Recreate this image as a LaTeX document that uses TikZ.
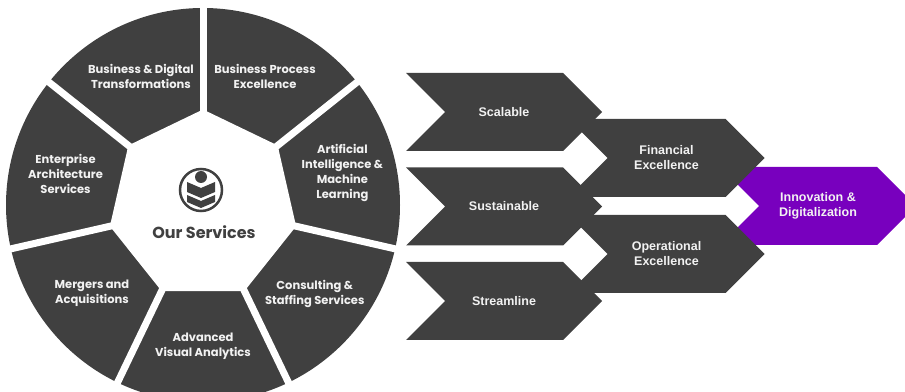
\documentclass[tikz,border=0pt]{standalone}
\usepackage{fontspec}
\setmainfont{Liberation Sans}
\newfontfamily\gothicfont{Poppins}
\usepackage{xcolor}
\definecolor{darkgrey}{RGB}{64,64,64}
\definecolor{lightgrey}{RGB}{242,242,242}
\definecolor{innovpurple}{RGB}{120,0,190}
\usetikzlibrary{shapes,arrows,positioning}

\begin{document}
\begin{tikzpicture}[node distance = 94.5pt, auto, x=1pt, y=1pt]
        \tikzstyle{chevron} = [signal, signal from=west, signal to=east, signal pointer angle=90, fill=darkgrey, text=lightgrey, minimum width=196pt, minimum height=78pt, inner sep=0pt, align=center, font=\bfseries\fontsize{12.5}{15}\selectfont]
        \tikzstyle{segment} = [text=lightgrey, align=center, font=\gothicfont\bfseries\fontsize{11.5}{15}\selectfont]
        \tikzstyle{gap} = [draw=white, line width=7pt]

        \clip (0,0) rectangle (905,391);

        % service wheel
        \coordinate (wheel) at (203,186);
        \fill [darkgrey] (wheel) circle (197pt);
        \node [regular polygon, regular polygon sides=7, minimum size=191pt, inner sep=0pt, outer sep=0pt, fill=white] (hub) at (wheel) {};
        \draw [gap] (hub.center) -- ++(90:215pt);
        \draw [gap] (hub.center) -- ++(38.57:215pt);
        \draw [gap] (hub.center) -- ++(-12.86:215pt);
        \draw [gap] (hub.center) -- ++(-64.29:215pt);
        \draw [gap] (hub.center) -- ++(-115.71:215pt);
        \draw [gap] (hub.center) -- ++(-167.14:215pt);
        \draw [gap] (hub.center) -- ++(141.43:215pt);

        \node [segment] (digital_transformations) at ([shift={(115.71:143pt)}]hub.center) {Business \& Digital\\Transformations};
        \node [segment] (process_excellence) at ([shift={(64.29:143pt)}]hub.center) {Business Process\\Excellence};
        \node [segment] (ai_ml) at ([shift={(12.86:143pt)}]hub.center) {Artificial\\Intelligence \&\\Machine\\Learning};
        \node [segment] (consulting) at ([shift={(-38.57:143pt)}]hub.center) {Consulting \&\\Staffing Services};
        \node [segment] (visual_analytics) at ([shift={(-90:141pt)}]hub.center) {Advanced\\Visual Analytics};
        \node [segment] (mergers) at ([shift={(-141.43:142pt)}]hub.center) {Mergers and\\Acquisitions};
        \node [segment] (enterprise_arch) at ([shift={(167.14:141pt)}]hub.center) {Enterprise\\Architecture\\Services};

        % badge in the middle
        \node [circle, draw=darkgrey, line width=2.5pt, minimum size=42pt, inner sep=0pt] (badge) at (201,201) {};
        \begin{scope}[shift={(201,201)}]
            \fill [darkgrey] (0,13) circle (6pt);
            \fill [darkgrey] (-14,8) -- (0,2) -- (14,8) -- (14,-2) -- (0,-8) -- (-14,-2) -- cycle;
            \fill [darkgrey] (-14,-5) -- (0,-11) -- (14,-5) -- (14,-12) -- (0,-18) -- (-14,-12) -- cycle;
        \end{scope}
        \node [text=darkgrey, font=\gothicfont\bfseries\fontsize{16}{18}\selectfont] (our_services) at (204,159) {Our Services};

        % chevrons
        \node [chevron, fill=innovpurple] (innovation) at (818,185) {Innovation \&\\Digitalization};
        \node [chevron] (scalable) at (504,279) {Scalable};
        \node [chevron, below of=scalable] (sustainable) {Sustainable};
        \node [chevron, below of=sustainable] (streamline) {Streamline};
        \node [chevron, right of=scalable, node distance=162.5pt, yshift=-46pt] (financial) {Financial\\Excellence};
        \node [chevron, below of=financial, node distance=96pt] (operational) {Operational\\Excellence};

    \end{tikzpicture}
\end{document}
